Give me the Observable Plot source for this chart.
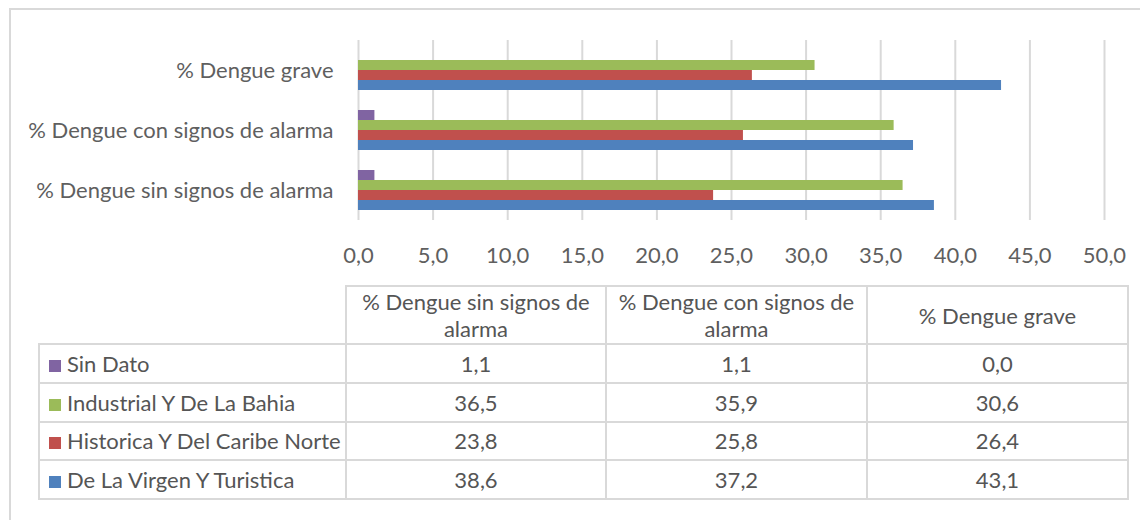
<!DOCTYPE html>
<html>
<head>
<meta charset="utf-8">
<script src="https://cdn.jsdelivr.net/npm/d3@7"></script>
<script src="https://cdn.jsdelivr.net/npm/@observablehq/plot@0.6"></script>
<style>
  html, body { margin: 0; padding: 0; background: #fff; }
  #wrap { position: relative; width: 1140px; height: 520px; overflow: hidden; font-family: Lato, sans-serif; }
  #frame { position: absolute; left: 9px; top: 8px; width: 1300px; height: 700px; border-top: 2px solid #d9d9d9; border-left: 2px solid #d9d9d9; }
  #chart { position: absolute; left: 0; top: 0; }
  #tbl { position: absolute; left: 38px; top: 285px; border-collapse: collapse; table-layout: fixed; width: 1089px; color: #555555; font-size: 22px; }
  #tbl td, #tbl th { border: 2px solid #d9d9d9; padding: 0; font-weight: normal; text-align: center; vertical-align: middle; }
  #tbl th { height: 56px; line-height: 27px; }
  #tbl td { height: 36.75px; line-height: 27px; }
  #tbl th.blank { border-top: none; border-left: none; }
  #tbl td.name { text-align: left; padding-left: 9px; white-space: nowrap; }
  .key { display: inline-block; width: 12px; height: 12px; margin-right: 6px; vertical-align: 0px; }
</style>
</head>
<body>
<div id="wrap">
  <div id="frame"></div>
  <div id="chart"></div>
  <table id="tbl"></table>
</div>
<script>
const categories = ["% Dengue sin signos de alarma", "% Dengue con signos de alarma", "% Dengue grave"];
const categoryHeaders = [["% Dengue sin signos de", "alarma"], ["% Dengue con signos de", "alarma"], ["% Dengue grave"]];
const series = ["Sin Dato", "Industrial Y De La Bahia", "Historica Y Del Caribe Norte", "De La Virgen Y Turistica"];
const colors = ["#8064A2", "#9BBB59", "#C0504D", "#4F81BD"];
const sinDato = [1.1, 1.1, 0.0];
const industrial = [36.5, 35.9, 30.6];
const historica = [23.8, 25.8, 26.4];
const virgen = [38.6, 37.2, 43.1];
const xTicks = [0, 5, 10, 15, 20, 25, 30, 35, 40, 45, 50];

const values = [sinDato, industrial, historica, virgen];
const fmt = d => d3.format(".1f")(d).replace(".", ",");
const data = series.flatMap((s, i) => categories.map((c, j) => ({serie: s, cat: c, value: values[i][j]})));

const chart = Plot.plot({
  width: 1140,
  height: 285,
  marginLeft: 358,
  marginRight: 36,
  marginTop: 39,
  marginBottom: 64,
  style: {fontFamily: "Lato, sans-serif", fontSize: "22px", color: "#5f5f5f", background: "transparent"},
  x: {domain: [0, 50], ticks: xTicks, tickFormat: fmt, tickSize: 0, tickPadding: 27, label: null},
  y: {domain: series, axis: null, paddingInner: 0, paddingOuter: 0.94},
  fy: {domain: [...categories].reverse(), padding: 0, label: null, tickSize: 0, tickPadding: 25},
  color: {domain: series, range: colors},
  marks: [
    Plot.gridX(xTicks, {stroke: "#d9d9d9", strokeWidth: 2, strokeOpacity: 1}),
    Plot.barX(data, {x: "value", y: "serie", fy: "cat", fill: "serie"})
  ]
});
document.getElementById("chart").appendChild(chart);

// data table below the chart
const tbl = document.getElementById("tbl");
const colgroup = document.createElement("colgroup");
[307, 260, 261, 261].forEach(w => { const c = document.createElement("col"); c.style.width = w + "px"; colgroup.appendChild(c); });
tbl.appendChild(colgroup);
const head = document.createElement("tr");
const blank = document.createElement("th"); blank.className = "blank"; head.appendChild(blank);
categoryHeaders.forEach(lines => {
  const th = document.createElement("th");
  lines.forEach((l, k) => { if (k) th.appendChild(document.createElement("br")); th.appendChild(document.createTextNode(l)); });
  head.appendChild(th);
});
tbl.appendChild(head);
series.forEach((s, i) => {
  const tr = document.createElement("tr");
  const name = document.createElement("td"); name.className = "name";
  const key = document.createElement("span"); key.className = "key"; key.style.background = colors[i];
  name.appendChild(key); name.appendChild(document.createTextNode(s));
  tr.appendChild(name);
  values[i].forEach(v => { const td = document.createElement("td"); td.textContent = fmt(v); tr.appendChild(td); });
  tbl.appendChild(tr);
});
</script>
</body>
</html>
